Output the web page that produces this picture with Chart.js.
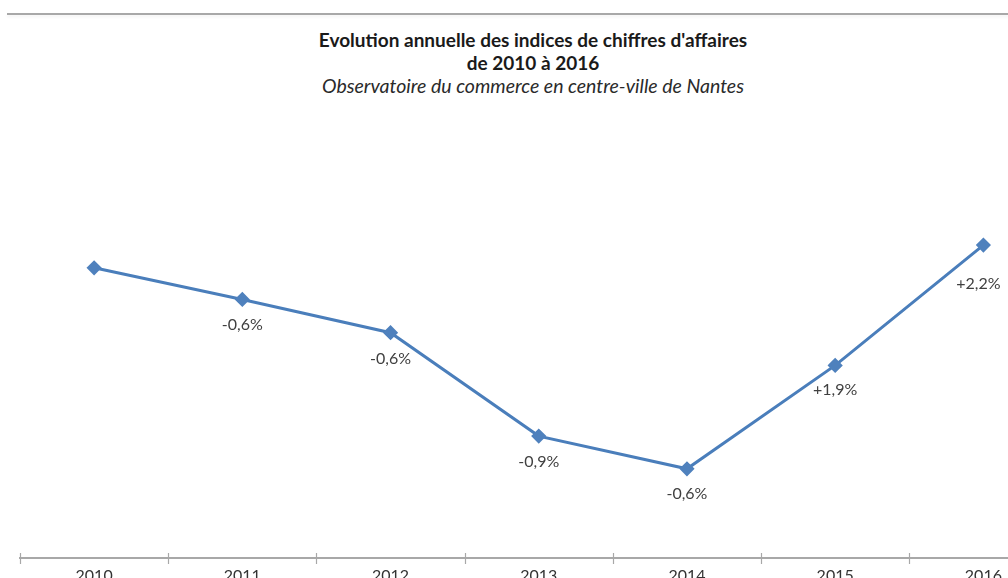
<!DOCTYPE html>
<html>
<head>
<meta charset="utf-8">
<script src="https://cdn.jsdelivr.net/npm/chart.js@4/dist/chart.umd.min.js"></script>
<style>
  html, body { margin: 0; padding: 0; background: #fff; overflow: hidden; width: 1008px; height: 578px; }
  #wrap { position: relative; width: 1008px; height: 578px; overflow: hidden; }
  #topline { position: absolute; left: 7px; top: 13px; width: 1010px; height: 2px; background: #a8a8a8; box-shadow: 0 2px 3px rgba(0,0,0,0.06); }
  #title { position: absolute; left: 0; top: 28px; width: 1066px; text-align: center; font-family: Lato, sans-serif; color: #1a1a1a; line-height: 23px; }
  #title .b { font-weight: bold; font-size: 19px; }
  #title .i { font-style: italic; color: #2a2a2a; font-size: 19.5px; }
  #cv { position: absolute; left: 0; top: 0; }
</style>
</head>
<body>
<div id="wrap">
  <div id="topline"></div>
  <div id="title">
    <div class="b">Evolution annuelle des indices de chiffres d'affaires</div>
    <div class="b">de 2010 à 2016</div>
    <div class="i">Observatoire du commerce en centre-ville de Nantes</div>
  </div>
  <div style="position:absolute;left:0;top:0;width:1066px;height:600px;">
    <canvas id="cv" width="1066" height="600"></canvas>
  </div>
</div>
<script>
// Data (index level per year; 2010 = 100)
const years = ['2010', '2011', '2012', '2013', '2014', '2015', '2016'];
const indexValues = [100, 99.40, 98.77, 96.81, 96.19, 98.15, 100.43];
const changeLabels = ['', '-0,6%', '-0,6%', '-0,9%', '-0,6%', '+1,9%', '+2,2%'];

// styling only
const labelOffsets = [0, 25, 26, 26, 25, 24, 39];
const labelShiftX = [0, 0, 0, 0, 0, 0, -5];

const lineColor = '#4a7ebb';

const labelPlugin = {
  id: 'valueLabels',
  afterDatasetsDraw(chart) {
    const ctx = chart.ctx;
    const meta = chart.getDatasetMeta(0);
    ctx.save();
    ctx.font = '16px Lato, sans-serif';
    ctx.fillStyle = '#404040';
    ctx.textAlign = 'center';
    ctx.textBaseline = 'middle';
    meta.data.forEach((pt, i) => {
      if (!changeLabels[i]) return;
      ctx.fillText(changeLabels[i], pt.x + labelShiftX[i], pt.y + labelOffsets[i]);
    });
    ctx.restore();
  }
};

const tickPlugin = {
  id: 'crossTicks',
  afterDraw(chart) {
    const xs = chart.scales.x;
    const ctx = chart.ctx;
    const y0 = chart.chartArea.bottom;
    const step = xs.getPixelForValue(1) - xs.getPixelForValue(0);
    ctx.save();
    ctx.strokeStyle = '#a8a8a8';
    ctx.lineWidth = 1.2;
    for (let i = 0; i <= years.length; i++) {
      const x = Math.round(xs.getPixelForValue(i) - step / 2) + 0.5;
      ctx.beginPath();
      ctx.moveTo(x, y0 - 5);
      ctx.lineTo(x, y0 + 6);
      ctx.stroke();
    }
    ctx.restore();
  }
};

new Chart(document.getElementById('cv'), {
  type: 'line',
  data: {
    labels: years,
    datasets: [{
      data: indexValues,
      borderColor: lineColor,
      backgroundColor: lineColor,
      borderWidth: 3,
      pointStyle: 'rectRot',
      pointRadius: 5.5,
      pointHoverRadius: 5.5,
      pointBackgroundColor: '#4f81bd',
      pointBorderColor: '#4f81bd',
      tension: 0,
      fill: false
    }]
  },
  options: {
    responsive: false,
    animation: false,
    events: [],
    layout: { padding: { left: 20, right: 2, top: 120, bottom: 0 } },
    plugins: { legend: { display: false }, title: { display: false }, tooltip: { enabled: false } },
    scales: {
      x: {
        offset: true,
        grid: { display: false, drawTicks: false },
        border: { display: true, color: '#a8a8a8', width: 2 },
        ticks: { color: '#333333', font: { family: 'Lato, sans-serif', size: 16 }, padding: 8, maxRotation: 0, autoSkip: false },
        afterFit(s) { s.height = 42; }
      },
      y: {
        display: false,
        min: 94.5,
        max: 102.8
      }
    }
  },
  plugins: [labelPlugin, tickPlugin]
});
</script>
</body>
</html>
